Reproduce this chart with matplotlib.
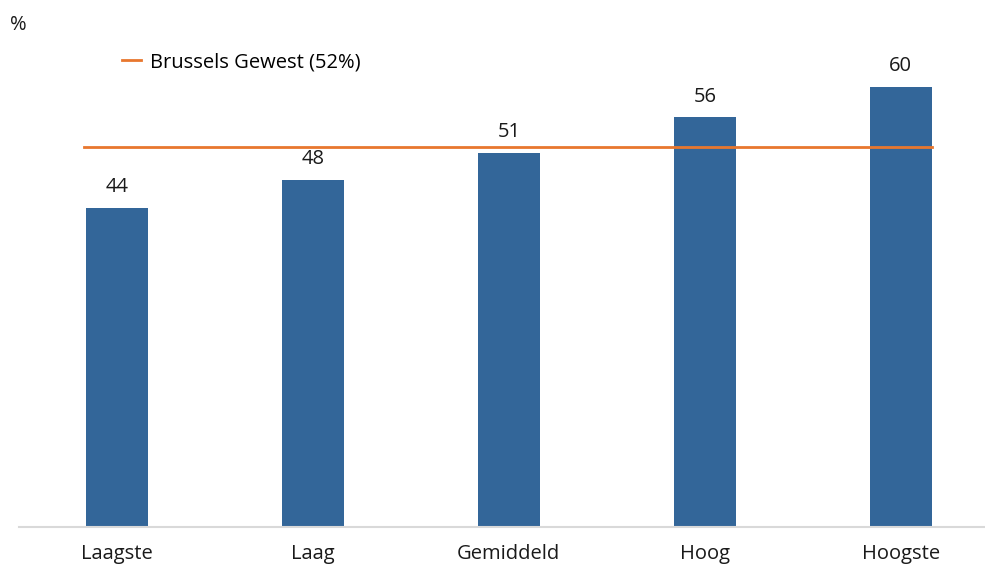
import matplotlib.pyplot as plt
import numpy as np

plt.rcParams['font.family'] = ['Open Sans', 'DejaVu Sans']

categories = ["Laagste", "Laag", "Gemiddeld", "Hoog", "Hoogste"]
values = [43.9, 47.7, 51.4, 56.3, 60.5]
labels = ["44", "48", "51", "56", "60"]
regio = 52.3
regio_label = "Brussels Gewest (52%)"

bar_color = "#336699"
line_color = "#e8772e"
fs = 14.5

fig = plt.figure(figsize=(9.85, 5.66), dpi=100)
ax = fig.add_axes([19 / 985, 39 / 566, 966 / 985, 507 / 566])

x = np.arange(len(categories))
bars = ax.bar(x, values, width=0.315, color=bar_color, zorder=2)
for b, lab in zip(bars, labels):
    ax.text(b.get_x() + b.get_width() / 2, b.get_height() + 1.5, lab,
            ha="center", va="bottom", fontsize=fs, color="#1a1a1a")

ax.plot([-0.17, 4.16], [regio, regio], color=line_color, lw=2, zorder=3,
        label=regio_label)

ax.set_xlim(-0.5, 4.43)
ax.set_ylim(0, 69.7)
ax.set_xticks(x)
ax.set_xticklabels(categories, fontsize=fs, color="#1a1a1a")
ax.tick_params(axis="x", length=0, pad=12)
ax.set_yticks([])
for s in ["top", "right", "left"]:
    ax.spines[s].set_visible(False)
ax.spines["bottom"].set_color("#d9d9d9")
ax.spines["bottom"].set_linewidth(1.5)

fig.text(10 / 985, 1 - 25 / 566, "%", fontsize=fs, va="center", color="#1a1a1a")
ax.legend(loc="upper left", bbox_to_anchor=(95 / 966, 1 - 24 / 507), frameon=False,
          fontsize=fs, handlelength=0.95, handletextpad=0.45, borderaxespad=0)

fig.savefig("out.png", dpi=100)
